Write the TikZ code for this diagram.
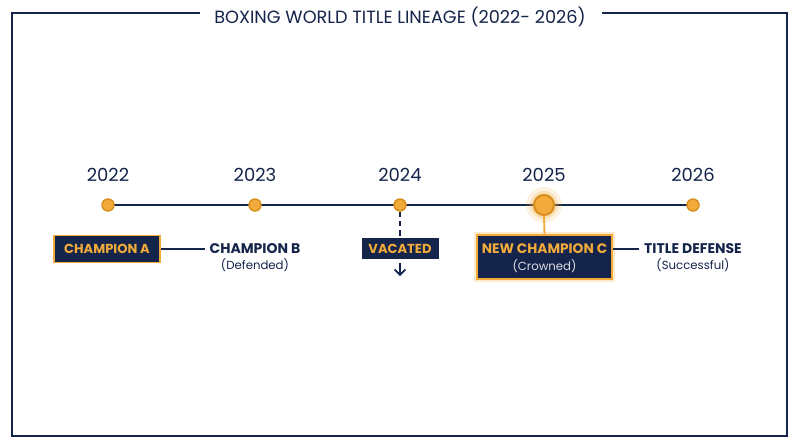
\documentclass[tikz,border=0pt]{standalone}
\usepackage{fontspec}
\setmainfont{Poppins}
\usetikzlibrary{arrows.meta}
\definecolor{navy}{HTML}{14244A}
\definecolor{gold}{HTML}{F2AA3A}
\definecolor{golddk}{HTML}{D98E1E}
\tikzset{
  yearlbl/.style={text=navy, font=\fontsize{13.5}{15}\selectfont},
  dot/.style={circle, fill=gold, draw=golddk, line width=1.1pt, minimum size=9pt, inner sep=0pt},
  champbox/.style={fill=navy, draw=gold, line width=1.2pt, text=gold, font=\bfseries\fontsize{9.8}{11}\selectfont, align=center, inner sep=0pt},
  plainlbl/.style={text=navy, font=\bfseries\fontsize{10.5}{12}\selectfont, align=center},
  sublbl/.style={text=navy, font=\fontsize{8.8}{10}\selectfont},
  conn/.style={draw=navy, line width=1.3pt}
}
\begin{document}
\begin{tikzpicture}[x=0.75pt,y=-0.75pt]
\useasboundingbox (0,0) rectangle (800,447);
% frame
\draw[navy, line width=1.3pt] (200,13) -- (12,13) -- (12,436) -- (787,436) -- (787,13) -- (602,13);
\node[text=navy, font=\fontsize{13.3}{15}\selectfont] (title) at (400,17) {BOXING WORLD TITLE LINEAGE (2022- 2026)};
% timeline
\coordinate (tl0) at (108,205);
\coordinate (tl1) at (693,205);
\draw[conn] (tl0) -- (tl1);
% glow for 2025
\fill[gold, opacity=0.15] (544,205) circle (18);
\fill[gold, opacity=0.25] (544,205) circle (14);
\node[dot] (d22) at (108,205) {};
\node[dot] (d23) at (255,205) {};
\node[dot] (d24) at (400,205) {};
\node[dot, minimum size=15pt, line width=1.6pt] (d25) at (544,205) {};
\node[dot] (d26) at (693,205) {};
% years
\node[yearlbl] (y22) at (108,175) {2022};
\node[yearlbl] (y23) at (255,175) {2023};
\node[yearlbl] (y24) at (400,175) {2024};
\node[yearlbl] (y25) at (544,175) {2025};
\node[yearlbl] (y26) at (693,175) {2026};
% champion A
\node[champbox, minimum width=106*0.75pt, minimum height=27*0.75pt] (cA) at (107,249) {CHAMPION A};
\node[plainlbl] (cB) at (255,249) {CHAMPION B};
\node[sublbl] (cBs) at (255,265) {(Defended)};
\draw[conn] (cA.east) -- (cB.west);
% vacated
\node[champbox, draw=none, minimum width=77*0.75pt, minimum height=21*0.75pt] (vac) at (400,248.5) {VACATED};
\draw[navy, line width=1.4pt, dash pattern=on 4pt off 3pt] (d24.south) -- (vac.north);
\coordinate (varrow) at (400,276);
\draw[navy, line width=1.3pt, -{Straight Barb[length=4pt,width=8pt]}] (vac.south)++(0,4*0.75) -- (varrow);
% new champion C
\fill[gold, opacity=0.25] (474,232) rectangle (615,282);
\node[champbox, minimum width=135*0.75pt, minimum height=44*0.75pt] (cC) at (544.5,257) {};
\node[champbox, draw=none, fill=none, font=\bfseries\fontsize{10.3}{12}\selectfont] (cCt) at (544.5,249) {NEW CHAMPION C};
\node[sublbl, text=white!85!navy] (cCs) at (544.5,266) {(Crowned)};
\draw[gold, line width=1.4pt] (d25.south) -- (cC.north);
\node[plainlbl] (td) at (693,249) {TITLE DEFENSE};
\node[sublbl] (tds) at (693,265) {(Successful)};
\draw[conn] (cC.east |- td) -- (td.west);
\end{tikzpicture}
\end{document}
